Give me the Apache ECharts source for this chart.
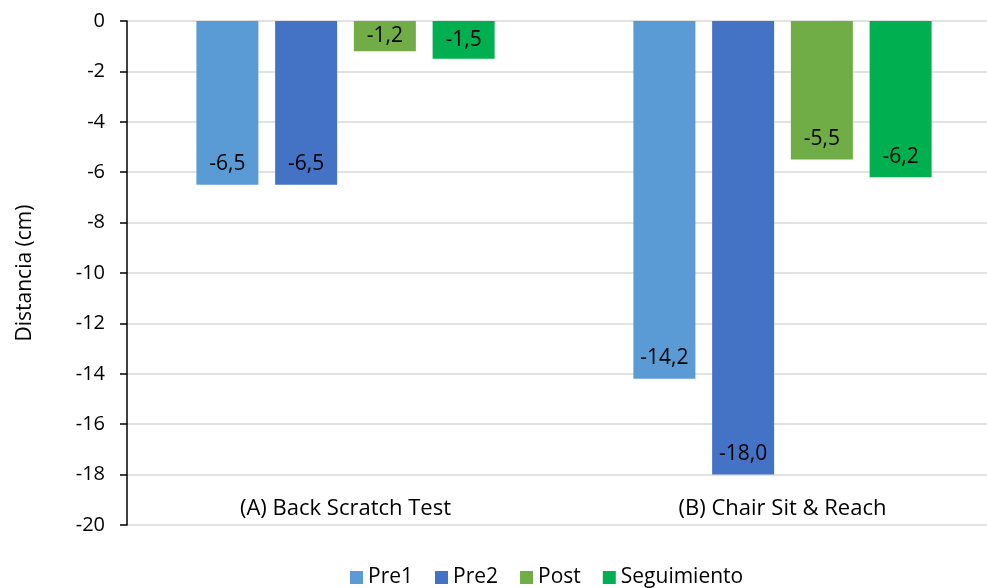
<!DOCTYPE html>
<html>
<head>
<meta charset="utf-8">
<script src="https://cdn.jsdelivr.net/npm/echarts@6/dist/echarts.min.js"></script>
<style>
html, body { margin: 0; padding: 0; background: #fff; }
#chart { width: 987px; height: 588px; }
</style>
</head>
<body>
<div id="chart"></div>
<script>
var categories = ['(A) Back Scratch Test', '(B) Chair Sit & Reach'];
var pre1 = [-6.5, -14.2];
var pre2 = [-6.5, -18.0];
var post = [-1.2, -5.5];
var seguimiento = [-1.5, -6.2];
var seriesNames = ['Pre1', 'Pre2', 'Post', 'Seguimiento'];
var seriesData = [pre1, pre2, post, seguimiento];
var colors = ['#5B9BD5', '#4472C4', '#70AD47', '#00B050'];

var FONT = '"Open Sans", "Noto Sans", sans-serif';
var TXT = '#000';
var myChart = echarts.init(document.getElementById('chart'));

function fmt(v) {
    return v.toFixed(1).replace('.', ',');
}

var series = seriesNames.map(function (name, i) {
    return {
        name: name,
        type: 'bar',
        barWidth: 62,
        barGap: '27%',
        itemStyle: { color: colors[i] },
        data: seriesData[i].map(function (v) {
            // short bars get the label centred, longer ones near the end
            return {
                value: v,
                label: {
                    position: Math.abs(v) < 3 ? 'inside' : 'insideBottom',
                    distance: 10
                }
            };
        }),
        label: {
            show: true,
            color: TXT,
            fontFamily: FONT,
            fontSize: 21,
            formatter: function (p) { return fmt(p.value); }
        }
    };
});

var option = {
    animation: false,
    color: colors,
    textStyle: { fontFamily: FONT },
    grid: {
        left: 127,
        top: 21,
        width: 874,
        bottom: 63,
        outerBoundsMode: 'none'
    },
    legend: {
        left: 345,
        top: 562,
        itemWidth: 13,
        itemHeight: 13,
        itemGap: 22,
        icon: 'rect',
        textStyle: { fontSize: 21, color: TXT, fontFamily: FONT },
        data: seriesNames
    },
    xAxis: {
        type: 'category',
        data: categories,
        axisLine: { show: false },
        axisTick: { show: false },
        axisLabel: {
            inside: true,
            margin: 5,
            fontSize: 22,
            color: TXT,
            fontFamily: FONT
        }
    },
    yAxis: {
        type: 'value',
        min: -20,
        max: 0,
        interval: 2,
        name: 'Distancia (cm)',
        nameLocation: 'middle',
        nameGap: 91,
        nameTextStyle: { fontSize: 21, color: TXT, fontFamily: FONT },
        axisLine: { show: true, lineStyle: { color: '#000', width: 1.5 } },
        axisTick: { show: true, length: 7, lineStyle: { color: '#000', width: 1.5 } },
        axisLabel: { fontSize: 20, color: TXT, margin: 22, fontFamily: FONT },
        splitLine: { lineStyle: { color: '#d9d9d9', width: 1.5 } }
    },
    series: series
};

myChart.setOption(option, true);
</script>
</body>
</html>
